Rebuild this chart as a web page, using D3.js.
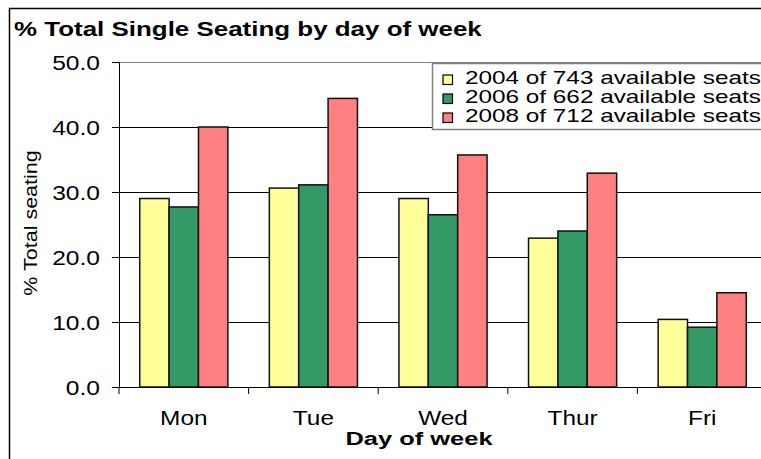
<!DOCTYPE html>
<html>
<head>
<meta charset="utf-8">
<script src="https://cdn.jsdelivr.net/npm/d3@7"></script>
<style>
  body { margin: 0; background: #fff; }
  svg { display: block; font-family: "Liberation Sans", Arial, sans-serif; }
</style>
</head>
<body>
<div class="barGraph"></div>
<script>
// chart data
var days = ["Mon", "Tue", "Wed", "Thur", "Fri"];
var seriesNames = ["2004 of 743 available seats", "2006 of 662 available seats", "2008 of 712 available seats"];
var values2004 = [29.0, 30.6, 29.0, 22.9, 10.4];
var values2006 = [27.7, 31.1, 26.5, 24.0, 9.2];
var values2008 = [40.0, 44.4, 35.7, 32.9, 14.5];
var yTicks = [0, 10, 20, 30, 40, 50];

// the original text is drawn wider than normal Arial, so stretch it sideways round its anchor
function stretch(sel, s){
    sel.each(function(){
        var t = d3.select(this);
        var ax = +(t.attr("x") || 0);
        t.attr("transform", "translate(" + ax + ",0) scale(" + s + ",1) translate(" + (-ax) + ",0)");
    });
}

function init(){
    var w = 761, h = 459;
    var left = 119, top = 62, plotW = 648, plotH = 325;
    var colors = ["#FFFF99", "#339966", "#FF8080"];
    var allSeries = [values2004, values2006, values2008];

    var svg = d3.select(".barGraph")
                .append("svg")
                .attr("width", w)
                .attr("height", h);

    // outer frame
    svg.append("rect")
        .attr("x", 9.5).attr("y", 8.5)
        .attr("width", w + 20).attr("height", h + 20)
        .attr("fill", "none").attr("stroke", "#000").attr("stroke-width", 1.5);

    var x = d3.scaleBand().domain(days).range([left, left + plotW]).paddingInner(0.32).paddingOuter(0.16);
    var xFull = d3.scaleBand().domain(days).range([left, left + plotW]);
    var xs = d3.scaleBand().domain(d3.range(3)).range([0, x.bandwidth()]);
    var y = d3.scaleLinear().domain([0, 50]).range([top + plotH, top]);

    // gridlines
    svg.append("g").selectAll("line")
        .data(yTicks.filter(function(d){ return d > 0; }))
        .enter().append("line")
        .attr("x1", left).attr("x2", left + plotW)
        .attr("y1", function(d){ return Math.round(y(d)) + 0.5; })
        .attr("y2", function(d){ return Math.round(y(d)) + 0.5; })
        .attr("stroke", function(d){ return d == 50 ? "#808080" : "#000"; })
        .attr("stroke-width", 1);

    // bars
    var groups = svg.append("g").selectAll("g")
        .data(allSeries).enter().append("g")
        .attr("fill", function(d, i){ return colors[i]; });
    groups.selectAll("rect")
        .data(function(d, i){ return d.map(function(v, j){ return {v: v, s: i, day: days[j]}; }); })
        .enter().append("rect")
        .attr("x", function(d){ return x(d.day) + xs(d.s); })
        .attr("y", function(d){ return y(d.v); })
        .attr("width", xs.bandwidth())
        .attr("height", function(d){ return y(0) - y(d.v); })
        .attr("stroke", "#111")
        .attr("stroke-width", 1.5);

    // y axis
    var yAxis = svg.append("g")
        .attr("transform", "translate(" + left + ",0)")
        .call(d3.axisLeft(y).tickValues(yTicks).tickFormat(d3.format(".1f")).tickSize(7).tickPadding(12));
    yAxis.selectAll("text").attr("font-size", 19.5).attr("fill", "#000")
        .attr("font-family", "Liberation Sans, Arial, sans-serif").attr("dy", "0.36em")
        .call(stretch, 1.26);
    yAxis.select(".domain").attr("stroke", "#000");

    // x axis
    var xAxis = svg.append("g")
        .attr("transform", "translate(0," + (top + plotH) + ")")
        .call(d3.axisBottom(xFull).tickSize(0).tickPadding(24));
    xAxis.selectAll("text").attr("font-size", 20).attr("fill", "#000")
        .attr("font-family", "Liberation Sans, Arial, sans-serif")
        .call(stretch, 1.22);
    xAxis.select(".domain").attr("stroke", "#000");
    xAxis.selectAll(".sep").data(days).enter().append("line")
        .attr("class", "sep")
        .attr("x1", function(d){ return xFull(d); }).attr("x2", function(d){ return xFull(d); })
        .attr("y1", 0).attr("y2", 7).attr("stroke", "#000");

    // titles
    svg.append("text").attr("x", 14).attr("y", 36)
        .attr("font-size", 19.5).attr("font-weight", "bold")
        .text("% Total Single Seating by day of week")
        .call(stretch, 1.33);
    svg.append("text").attr("x", 419).attr("y", 445)
        .attr("text-anchor", "middle").attr("font-size", 19).attr("font-weight", "bold")
        .text("Day of week")
        .call(stretch, 1.34);
    svg.append("text")
        .attr("transform", "translate(37,223) rotate(-90) scale(1.23,1)")
        .attr("text-anchor", "middle").attr("font-size", 17.5)
        .text("% Total seating");

    // legend
    var lg = svg.append("g").attr("transform", "translate(432,63)");
    lg.append("rect").attr("x", 0.5).attr("y", 0.5).attr("width", 360).attr("height", 66)
        .attr("fill", "#fff").attr("stroke", "#808080").attr("stroke-width", 1.5);
    var items = lg.selectAll(".item").data(seriesNames).enter().append("g")
        .attr("class", "item")
        .attr("transform", function(d, i){ return "translate(0," + (i * 19) + ")"; });
    items.append("rect").attr("x", 11).attr("y", 12).attr("width", 9.5).attr("height", 9.5)
        .attr("fill", function(d, i){ return colors[i]; })
        .attr("stroke", "#000").attr("stroke-width", 1.2);
    items.append("text").attr("x", 33).attr("y", 21.5)
        .attr("font-size", 19).text(function(d){ return d; })
        .call(stretch, 1.28);
}
window.onload = init;
</script>
</body>
</html>
